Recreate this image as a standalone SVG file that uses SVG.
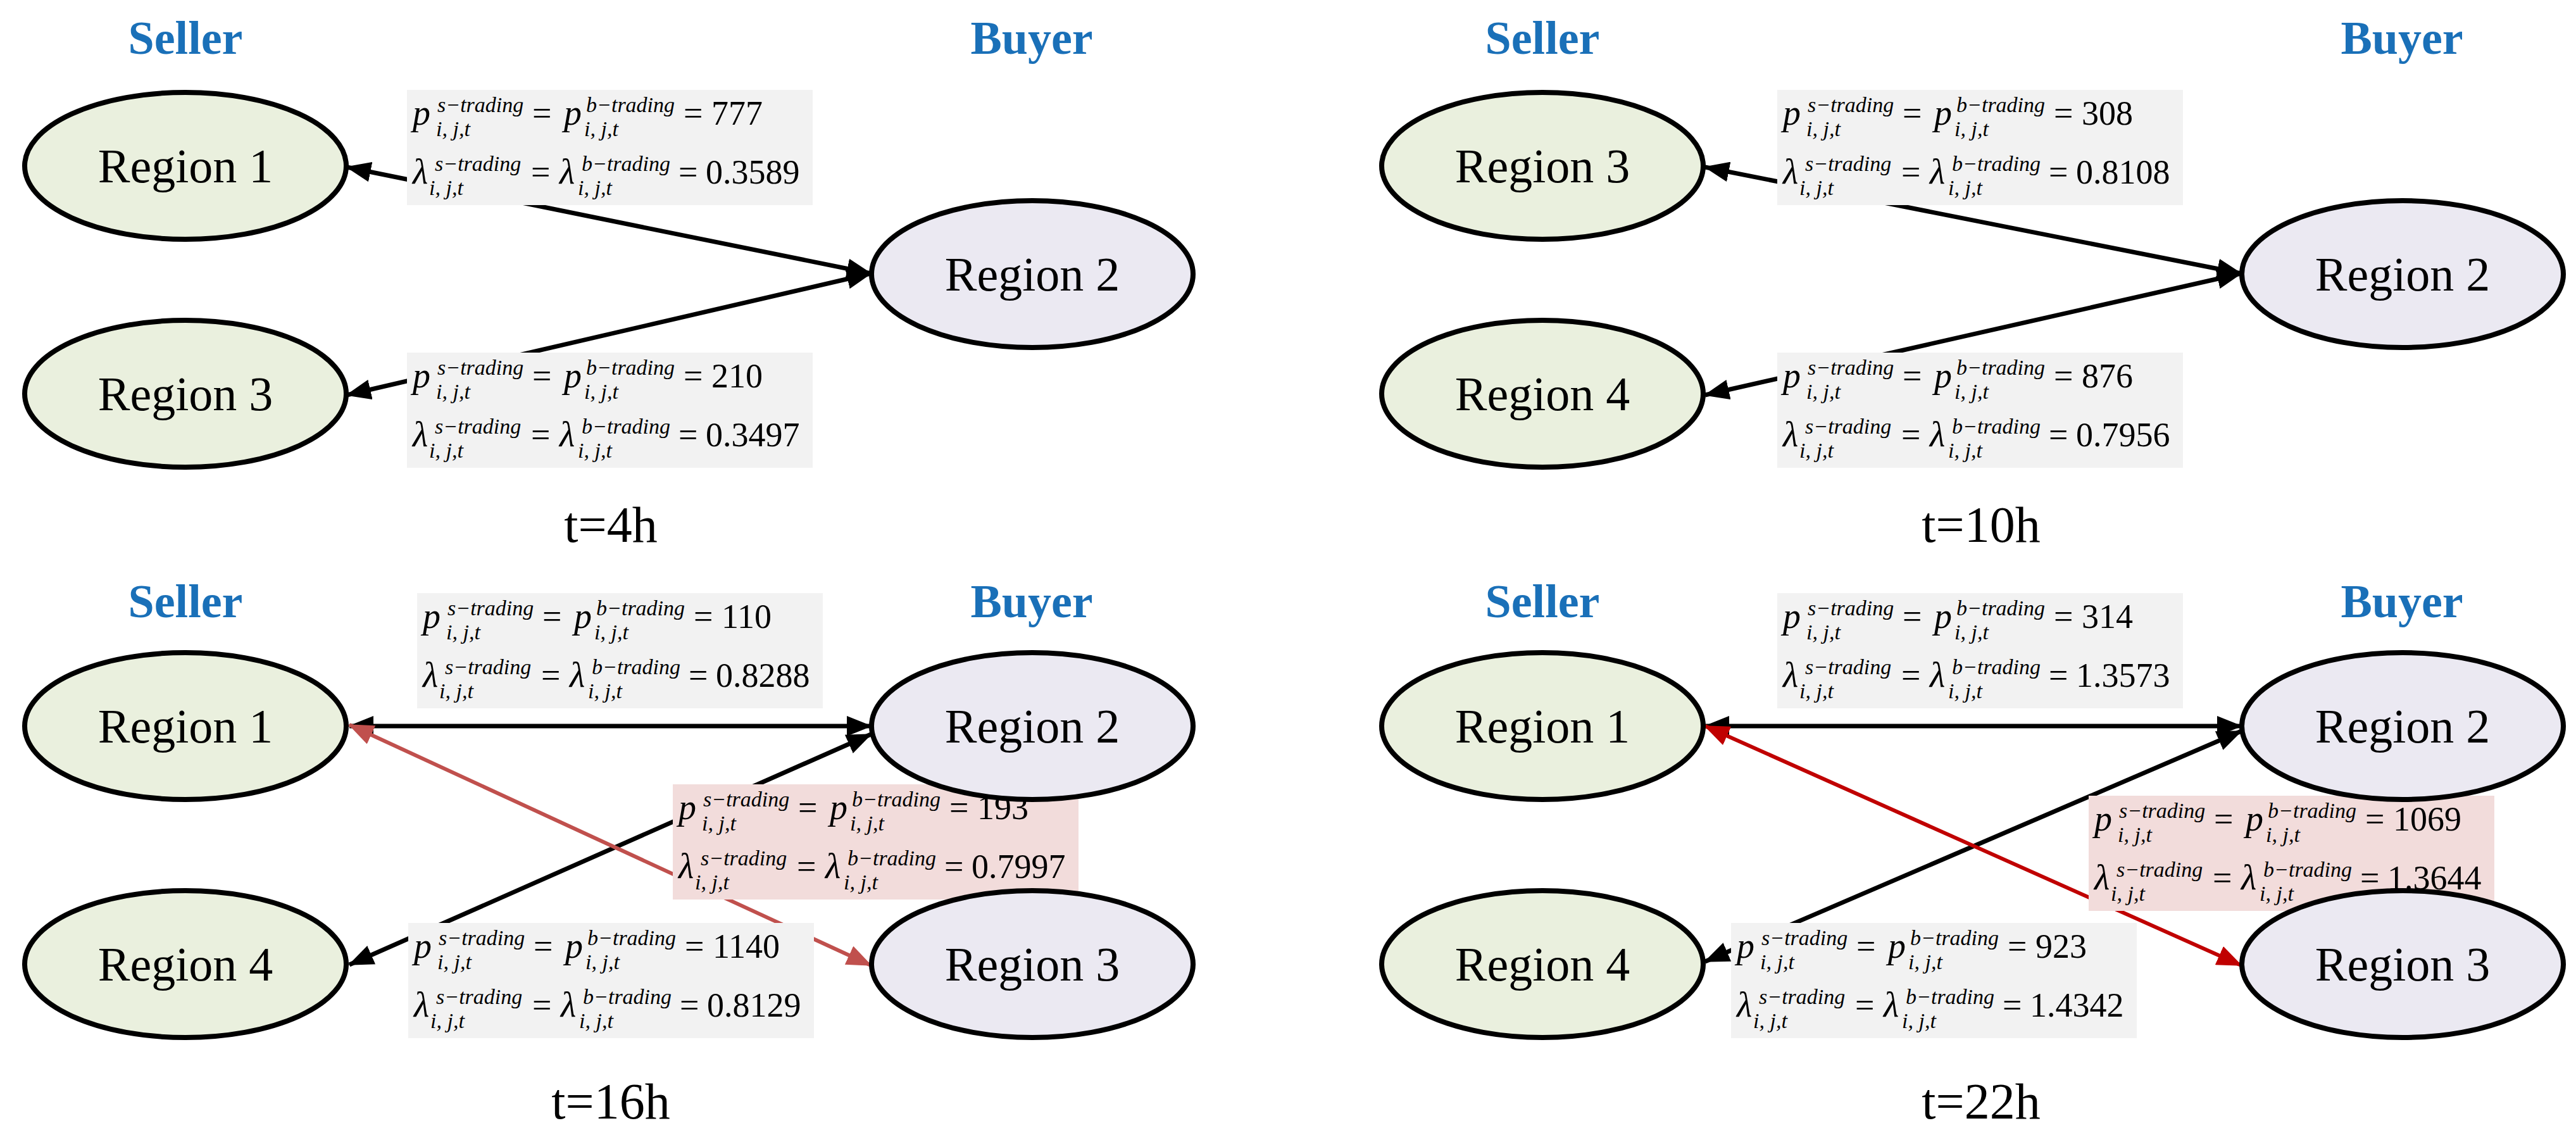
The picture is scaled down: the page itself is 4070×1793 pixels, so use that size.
<svg xmlns="http://www.w3.org/2000/svg" xmlns:xlink="http://www.w3.org/1999/xlink" width="4070" height="1793" viewBox="0 0 4070 1793">
<style>
.sel{fill:#eaf0de;stroke:#000;stroke-width:8}
.buy{fill:#ebe9f2;stroke:#000;stroke-width:8}
.rt{font-family:"Liberation Serif",serif;font-size:76px;text-anchor:middle;fill:#000}
.hd{font-family:"Liberation Serif",serif;font-size:74px;font-weight:bold;text-anchor:middle;fill:#1a70b8}
.tm{font-family:"Liberation Serif",serif;font-size:80px;text-anchor:middle;fill:#000}
.bx{fill:#f2f2f2}
.pk{fill:#f2dcdb}
.m{font-family:"Liberation Serif",serif;font-size:56px;font-style:italic;fill:#000}
.s{font-family:"Liberation Serif",serif;font-size:34px;font-style:italic;fill:#000}
.n{font-family:"Liberation Serif",serif;font-size:54px;fill:#000}
.k{stroke:#000;stroke-width:7;fill:none}
.r1{stroke:#c0504d;stroke-width:6;fill:none}
.r2{stroke:#c00000;stroke-width:6;fill:none}
</style>
<defs>
<marker id="ak" markerWidth="40" markerHeight="32" refX="38" refY="16" orient="auto-start-reverse" markerUnits="userSpaceOnUse"><path d="M0,0 L40,16 L0,32 Z" fill="#000"/></marker>
<marker id="ar1" markerWidth="40" markerHeight="32" refX="38" refY="16" orient="auto-start-reverse" markerUnits="userSpaceOnUse"><path d="M0,0 L40,16 L0,32 Z" fill="#c0504d"/></marker>
<marker id="ar2" markerWidth="40" markerHeight="32" refX="38" refY="16" orient="auto-start-reverse" markerUnits="userSpaceOnUse"><path d="M0,0 L40,16 L0,32 Z" fill="#c00000"/></marker>
<g id="f">
<text class="m" x="9" y="55">p</text><text class="s" x="48" y="35">s−trading</text><text class="s" x="46" y="73">i, j,t</text>
<text class="n" x="198" y="55">=</text>
<text class="m" x="248" y="55">p</text><text class="s" x="283" y="35">b−trading</text><text class="s" x="280" y="73">i, j,t</text>
<text class="n" x="437" y="55">=</text>
<text class="m" x="9" y="148" font-style="normal">λ</text><text class="s" x="44" y="128">s−trading</text><text class="s" x="35" y="166">i, j,t</text>
<text class="n" x="196" y="148">=</text>
<text class="m" x="241" y="148" font-style="normal">λ</text><text class="s" x="276" y="128">b−trading</text><text class="s" x="270" y="166">i, j,t</text>
<text class="n" x="429" y="148">=</text>
</g>
</defs>
<rect width="4070" height="1793" fill="#fff"/>

<g id="connectors">
<line class="k" x1="1376" y1="432" x2="548" y2="264" marker-start="url(#ak)" marker-end="url(#ak)"/>
<line class="k" x1="1376" y1="432" x2="548" y2="624" marker-start="url(#ak)" marker-end="url(#ak)"/>
<line class="k" x1="3541" y1="432" x2="2694" y2="264" marker-start="url(#ak)" marker-end="url(#ak)"/>
<line class="k" x1="3541" y1="432" x2="2694" y2="624" marker-start="url(#ak)" marker-end="url(#ak)"/>
<line class="k" x1="552" y1="1147" x2="1376" y2="1147" marker-start="url(#ak)" marker-end="url(#ak)"/>
<line class="k" x1="1376" y1="1160" x2="552" y2="1524" marker-start="url(#ak)" marker-end="url(#ak)"/>
<line class="r1" x1="552" y1="1145" x2="1376" y2="1525" marker-start="url(#ar1)" marker-end="url(#ar1)"/>
<line class="k" x1="2694" y1="1147" x2="3541" y2="1147" marker-start="url(#ak)" marker-end="url(#ak)"/>
<line class="k" x1="3541" y1="1155" x2="2694" y2="1519" marker-start="url(#ak)" marker-end="url(#ak)"/>
<line class="r2" x1="2694" y1="1147" x2="3541" y2="1525" marker-start="url(#ar2)" marker-end="url(#ar2)"/>
</g>

<g id="labels">
<text class="hd" x="293" y="85">Seller</text><text class="hd" x="1630" y="85">Buyer</text>
<text class="hd" x="2437" y="85">Seller</text><text class="hd" x="3795" y="85">Buyer</text>
<text class="hd" x="293" y="975">Seller</text><text class="hd" x="1630" y="975">Buyer</text>
<text class="hd" x="2437" y="975">Seller</text><text class="hd" x="3795" y="975">Buyer</text>
<text class="tm" x="965" y="856">t=4h</text>
<text class="tm" x="3130" y="856">t=10h</text>
<text class="tm" x="965" y="1767">t=16h</text>
<text class="tm" x="3130" y="1767">t=22h</text>
</g>

<g id="box-4h-a"><rect class="bx" x="643" y="142" width="641" height="182"/><use xlink:href="#f" transform="translate(643,142)"/><text class="n" x="1124" y="197">777</text><text class="n" x="1115" y="290">0.3589</text></g>
<g id="box-4h-b"><rect class="bx" x="643" y="557" width="641" height="182"/><use xlink:href="#f" transform="translate(643,557)"/><text class="n" x="1124" y="612">210</text><text class="n" x="1115" y="705">0.3497</text></g>
<g id="box-10h-a"><rect class="bx" x="2808" y="142" width="641" height="182"/><use xlink:href="#f" transform="translate(2808,142)"/><text class="n" x="3289" y="197">308</text><text class="n" x="3280" y="290">0.8108</text></g>
<g id="box-10h-b"><rect class="bx" x="2808" y="557" width="641" height="182"/><use xlink:href="#f" transform="translate(2808,557)"/><text class="n" x="3289" y="612">876</text><text class="n" x="3280" y="705">0.7956</text></g>
<g id="box-16h-a"><rect class="bx" x="659" y="937" width="641" height="182"/><use xlink:href="#f" transform="translate(659,937)"/><text class="n" x="1140" y="992">110</text><text class="n" x="1131" y="1085">0.8288</text></g>
<g id="box-16h-b"><rect class="pk" x="1063" y="1239" width="641" height="182"/><use xlink:href="#f" transform="translate(1063,1239)"/><text class="n" x="1544" y="1294">193</text><text class="n" x="1535" y="1387">0.7997</text></g>
<g id="box-16h-c"><rect class="bx" x="645" y="1458" width="641" height="182"/><use xlink:href="#f" transform="translate(645,1458)"/><text class="n" x="1126" y="1513">1140</text><text class="n" x="1117" y="1606">0.8129</text></g>
<g id="box-22h-a"><rect class="bx" x="2808" y="937" width="641" height="182"/><use xlink:href="#f" transform="translate(2808,937)"/><text class="n" x="3289" y="992">314</text><text class="n" x="3280" y="1085">1.3573</text></g>
<g id="box-22h-b"><rect class="pk" x="3300" y="1257" width="641" height="182"/><use xlink:href="#f" transform="translate(3300,1257)"/><text class="n" x="3781" y="1312">1069</text><text class="n" x="3772" y="1405">1.3644</text></g>
<g id="box-22h-c"><rect class="bx" x="2735" y="1458" width="641" height="182"/><use xlink:href="#f" transform="translate(2735,1458)"/><text class="n" x="3216" y="1513">923</text><text class="n" x="3207" y="1606">1.4342</text></g>

<g id="n4-r1"><ellipse class="sel" cx="293" cy="262" rx="254" ry="116"/><text class="rt" x="293" y="288">Region 1</text></g>
<g id="n4-r3"><ellipse class="sel" cx="293" cy="622" rx="254" ry="116"/><text class="rt" x="293" y="648">Region 3</text></g>
<g id="n4-r2"><ellipse class="buy" cx="1631" cy="433" rx="254" ry="116"/><text class="rt" x="1631" y="459">Region 2</text></g>
<g id="n10-r3"><ellipse class="sel" cx="2437" cy="262" rx="254" ry="116"/><text class="rt" x="2437" y="288">Region 3</text></g>
<g id="n10-r4"><ellipse class="sel" cx="2437" cy="622" rx="254" ry="116"/><text class="rt" x="2437" y="648">Region 4</text></g>
<g id="n10-r2"><ellipse class="buy" cx="3796" cy="433" rx="254" ry="116"/><text class="rt" x="3796" y="459">Region 2</text></g>
<g id="n16-r1"><ellipse class="sel" cx="293" cy="1147" rx="254" ry="116"/><text class="rt" x="293" y="1173">Region 1</text></g>
<g id="n16-r4"><ellipse class="sel" cx="293" cy="1523" rx="254" ry="116"/><text class="rt" x="293" y="1549">Region 4</text></g>
<g id="n16-r2"><ellipse class="buy" cx="1631" cy="1147" rx="254" ry="116"/><text class="rt" x="1631" y="1173">Region 2</text></g>
<g id="n16-r3"><ellipse class="buy" cx="1631" cy="1523" rx="254" ry="116"/><text class="rt" x="1631" y="1549">Region 3</text></g>
<g id="n22-r1"><ellipse class="sel" cx="2437" cy="1147" rx="254" ry="116"/><text class="rt" x="2437" y="1173">Region 1</text></g>
<g id="n22-r4"><ellipse class="sel" cx="2437" cy="1523" rx="254" ry="116"/><text class="rt" x="2437" y="1549">Region 4</text></g>
<g id="n22-r2"><ellipse class="buy" cx="3796" cy="1147" rx="254" ry="116"/><text class="rt" x="3796" y="1173">Region 2</text></g>
<g id="n22-r3"><ellipse class="buy" cx="3796" cy="1523" rx="254" ry="116"/><text class="rt" x="3796" y="1549">Region 3</text></g>
</svg>
